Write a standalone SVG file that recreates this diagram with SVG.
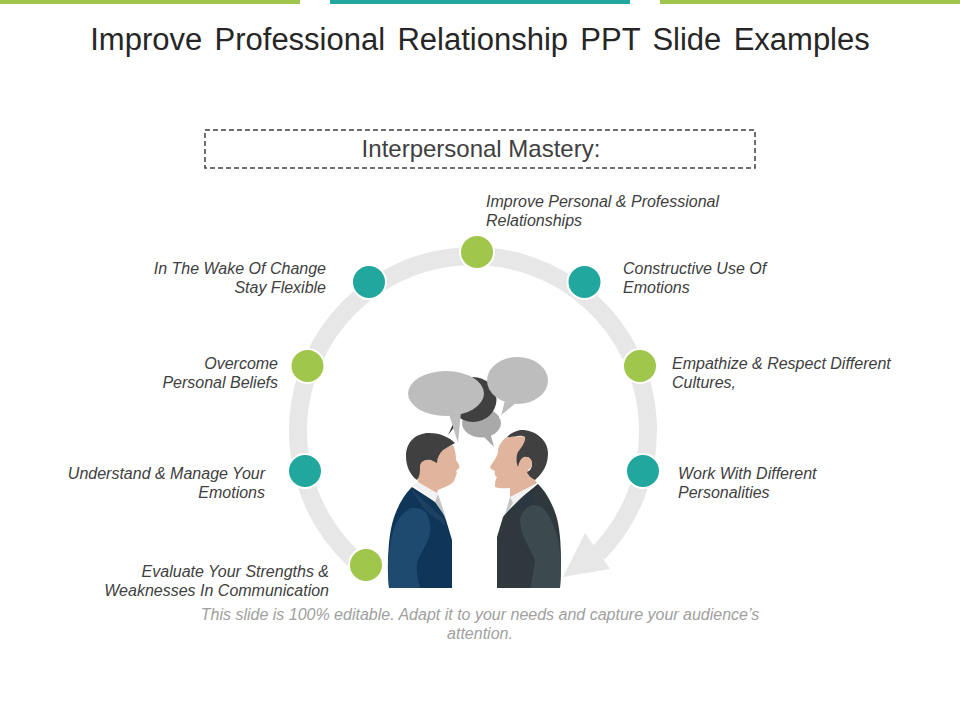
<svg xmlns="http://www.w3.org/2000/svg" width="960" height="720" viewBox="0 0 960 720">
<style>
text{font-family:"Liberation Sans",Arial,sans-serif}
.l{font-size:16px;font-style:italic;fill:#404040}
.e{text-anchor:end}
.g{fill:#a1c64c;stroke:#fff;stroke-width:2}
.t{fill:#21a79d;stroke:#fff;stroke-width:2}
.b{fill:#bdbdbd}
.skin{fill:#e0b49d}
.hair{fill:#404040}
</style>
<rect width="960" height="720" fill="#fff"/>
<g id="top-bars">
<rect x="0" y="0" width="300" height="4" fill="#a1c64c"/>
<rect x="330" y="0" width="300" height="4" fill="#21a79d"/>
<rect x="660" y="0" width="300" height="4" fill="#a1c64c"/>
</g>
<text id="title" x="480" y="50" text-anchor="middle" font-size="31" fill="#262626" word-spacing="3.7">Improve Professional Relationship PPT Slide Examples</text>
<g id="heading">
<rect x="205" y="130" width="550" height="38" fill="none" stroke="#404040" stroke-width="1.5" stroke-dasharray="5 3"/>
<text x="481" y="157" text-anchor="middle" font-size="24" fill="#404040">Interpersonal Mastery:</text>
</g>
<g id="connectors">
<path d="M366 569.500A175 175 0 1 1 598 553.500" fill="none" stroke="#e7e7e7" stroke-width="18"/>
<path d="M563 577L585 533L610 569Z" fill="#e7e7e7"/>
</g>
<g id="node-1"><circle class="g" cx="366" cy="565" r="17"/><text class="l e"><tspan x="329" y="577">Evaluate Your Strengths &amp;</tspan><tspan x="329" y="596">Weaknesses In Communication</tspan></text></g>
<g id="node-2"><circle class="t" cx="305" cy="471" r="17"/><text class="l e"><tspan x="265" y="479">Understand &amp; Manage Your</tspan><tspan x="265" y="498">Emotions</tspan></text></g>
<g id="node-3"><circle class="g" cx="307.500" cy="366" r="17"/><text class="l e"><tspan x="278" y="369">Overcome</tspan><tspan x="278" y="388">Personal Beliefs</tspan></text></g>
<g id="node-4"><circle class="t" cx="369" cy="282" r="17"/><text class="l e"><tspan x="326" y="274">In The Wake Of Change</tspan><tspan x="326" y="293">Stay Flexible</tspan></text></g>
<g id="node-5"><circle class="g" cx="477" cy="252" r="17"/><text class="l"><tspan x="486" y="207">Improve Personal &amp; Professional</tspan><tspan x="486" y="226">Relationships</tspan></text></g>
<g id="node-6"><circle class="t" cx="584.500" cy="282" r="17"/><text class="l"><tspan x="623" y="274">Constructive Use Of</tspan><tspan x="623" y="293">Emotions</tspan></text></g>
<g id="node-7"><circle class="g" cx="640" cy="366" r="17"/><text class="l"><tspan x="672" y="369">Empathize &amp; Respect Different</tspan><tspan x="672" y="388">Cultures,</tspan></text></g>
<g id="node-8"><circle class="t" cx="643" cy="471" r="17"/><text class="l"><tspan x="678" y="479">Work With Different</tspan><tspan x="678" y="498">Personalities</tspan></text></g>
<g id="speech-bubbles">
<ellipse cx="481.500" cy="423" rx="19.500" ry="14.500" fill="#a9a9a9"/>
<path d="M482 435L494 447L490 432Z" fill="#a9a9a9"/>
<ellipse cx="473" cy="399.500" rx="23.500" ry="22.500" fill="#404040"/>
<path d="M448 435L453 424L460 420Z" fill="#404040"/>
<ellipse cx="446" cy="393.500" rx="38" ry="22.500" class="b"/>
<path d="M449 414L458 443L461 412Z" class="b"/>
<path d="M504 401L500 417L517 403Z" class="b" stroke="#fff" stroke-width="1.500"/>
<ellipse cx="517.500" cy="380.500" rx="30.500" ry="23.500" class="b"/>
</g>
<g id="person-left">
<path d="M389 588C387 560 388 530 396 512C400 502 405 494 412 487L440 505L446 520L452 540V588Z" fill="#0f3559"/>
<path d="M410 488L445 520L446 526L425 510Z" fill="#1c4161"/>
<path d="M389 588C387 565 388 555 390 547C392 530 397 520 402 515C407 510 410 508 413 508C421 508 427 511 428 517C431 525 431 530 429 537C426 547 420 553 417 563C416 572 418 580 420 588Z" fill="#1e4a70"/>
<path d="M412 485L418 482L438 493L435 502Z" fill="#f2f2f2"/>
<path d="M438 494L435 502L446 518Z" fill="#c4c4c4"/>
<path class="skin" d="M418 462L442 450L453 445C456 452 456 458 456 460C459 464 461 468 458 469C456 470 456 472 457 473C456 476 455 478 454 481C450 486 444 487 438 490L437 493L418 482Z"/>
<path class="hair" d="M417 480C410 475 406 466 406 456C406 442 416 433 429 433C441 433 450 438 455 443L443 450C439 454 437 458 437 463L431 460C424 459 420 462 420 467C420 472 420 476 417 480Z"/>
<ellipse class="skin" cx="426.500" cy="467" rx="6" ry="6.500"/>
</g>
<g id="person-right">
<path d="M560 588C562 560 561 530 556 515C552 503 546 492 538 484L512 505L503 517L497 537V588Z" fill="#2f383d"/>
<path d="M538 484L504 517L510 508L530 510Z" fill="#2b363e"/>
<path d="M560 588C562 565 560 550 558 540C555 528 550 515 543 508C538 505 535 505 533 505C526 507 521 513 520 520C520 535 530 548 535 560C534 570 532 580 530 588Z" fill="#3c494f"/>
<path d="M537 482L530 478L510 497L506 513Z" fill="#f2f2f2"/>
<path d="M510 497L505 515L513 503Z" fill="#c4c4c4"/>
<path class="skin" d="M507 437C501 441 498 447 498 451C498 456 493 462 490 467C491 470 494 470 495 471C494 474 495 476 497 477C495 480 495 484 495 487C500 489 505 488 510 488L510 497L537 483L528 470L528 436Z"/>
<path class="hair" d="M507 437C512 432 518 430 523 430C537 431 548 441 548 453C548 464 544 472 535 480C531 478 528 475 527 472C530 471 532 468 532 464C532 459 528 456 524 457C521 458 519 462 518 467C516 462 516 456 518 452C523 446 526 440 525 437C520 434 513 438 507 437Z"/>
<ellipse class="skin" cx="527" cy="463.500" rx="5" ry="6.500"/>
</g>
<text id="caption" font-size="16" font-style="italic" fill="#a0a0a0" text-anchor="middle"><tspan x="480" y="620">This slide is 100% editable. Adapt it to your needs and capture your audience’s</tspan><tspan x="480" y="639">attention.</tspan></text>
</svg>
